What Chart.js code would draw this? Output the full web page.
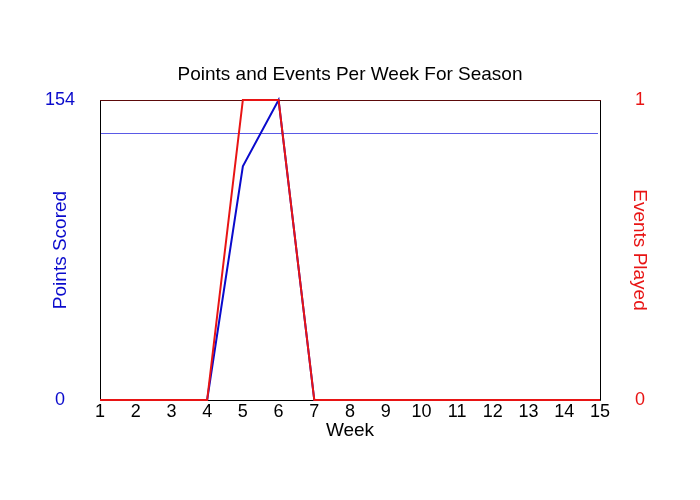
<!DOCTYPE html>
<html>
<head>
<meta charset="utf-8">
<title>Points and Events Per Week For Season</title>
<script src="https://cdn.jsdelivr.net/npm/chart.js@4.4.1/dist/chart.umd.min.js"></script>
<style>
  html, body { margin: 0; padding: 0; background: #fff; }
  canvas { display: block; }
</style>
</head>
<body>
<canvas id="grafico" width="700" height="500"></canvas>
<script>
// chart data
const weeks = ['1', '2', '3', '4', '5', '6', '7', '8', '9', '10', '11', '12', '13', '14', '15'];
const pointsScored = [0, 0, 0, 0, 120, 154, 0, 0, 0, 0, 0, 0, 0, 0, 0];
const eventsPlayed = [0, 0, 0, 0, 1, 1, 0, 0, 0, 0, 0, 0, 0, 0, 0];
const avgPoints = 137;
const pointsTicks = [0, 154];
const eventsTicks = [0, 1];

const BLUE = '#0a0acc';
const RED = '#e81414';
const FONT = '"Liberation Sans", Arial, sans-serif';

// frame + average line, under the series
const framePlugin = {
  id: 'frame',
  beforeDatasetsDraw(chart) {
    const { ctx, chartArea: a, scales } = chart;
    ctx.save();
    const yAvg = Math.round(scales.y.getPixelForValue(avgPoints)) + 0.5;
    ctx.strokeStyle = '#5a5ae6';
    ctx.lineWidth = 1;
    ctx.beginPath();
    ctx.moveTo(a.left, yAvg);
    ctx.lineTo(a.right - 2, yAvg);
    ctx.stroke();

    ctx.strokeStyle = '#000';
    ctx.beginPath();
    ctx.moveTo(a.left + 0.5, a.top);
    ctx.lineTo(a.left + 0.5, a.bottom + 0.5);
    ctx.lineTo(a.right + 0.5, a.bottom + 0.5);
    ctx.lineTo(a.right + 0.5, a.top);
    ctx.stroke();
    ctx.strokeStyle = '#5c0a0a';
    ctx.beginPath();
    ctx.moveTo(a.left, a.top + 0.5);
    ctx.lineTo(a.right + 1, a.top + 0.5);
    ctx.stroke();
    ctx.restore();
  }
};

const ctx = document.getElementById('grafico').getContext('2d');

new Chart(ctx, {
  type: 'line',
  data: {
    labels: weeks,
    datasets: [
      {
        label: 'Points Scored',
        data: pointsScored,
        yAxisID: 'y',
        order: 2,
        borderColor: BLUE,
        borderWidth: 2,
        pointRadius: 0,
        tension: 0,
        clip: 4,
        fill: false
      },
      {
        label: 'Events Played',
        data: eventsPlayed,
        yAxisID: 'y1',
        order: 1,
        borderColor: RED,
        borderWidth: 2,
        pointRadius: 0,
        tension: 0,
        clip: 4,
        fill: false
      }
    ]
  },
  options: {
    responsive: false,
    animation: false,
    layout: { padding: 0 },
    plugins: {
      legend: { display: false },
      tooltip: { enabled: false },
      title: {
        display: true,
        text: 'Points and Events Per Week For Season',
        color: '#000',
        font: { family: FONT, size: 19, weight: 'normal' },
        padding: { top: 63, bottom: 14.2 }
      }
    },
    scales: {
      x: {
        grid: { display: false, drawTicks: false, tickLength: 0 },
        border: { display: false },
        ticks: {
          color: '#000',
          padding: 1,
          maxRotation: 0,
          autoSkip: false,
          font: { family: FONT, size: 18 }
        },
        title: {
          display: true,
          text: 'Week',
          color: '#000',
          font: { family: FONT, size: 19 },
          padding: { top: 0, bottom: 58 }
        },
        afterFit(scale) { scale.height = 100; }
      },
      y: {
        position: 'left',
        min: 0,
        max: 154,
        grid: { display: false, drawTicks: false, tickLength: 0 },
        border: { display: false },
        afterBuildTicks(scale) { scale.ticks = pointsTicks.map(v => ({ value: v })); },
        ticks: {
          color: BLUE,
          padding: 25,
          crossAlign: 'center',
          font: { family: FONT, size: 18 }
        },
        title: {
          display: true,
          text: 'Points Scored',
          color: BLUE,
          font: { family: FONT, size: 19 },
          padding: { top: 49, bottom: 0 }
        },
        afterFit(scale) { scale.width = 100; }
      },
      y1: {
        position: 'right',
        min: 0,
        max: 1,
        grid: { display: false, drawTicks: false, tickLength: 0 },
        border: { display: false },
        afterBuildTicks(scale) { scale.ticks = eventsTicks.map(v => ({ value: v })); },
        ticks: {
          color: RED,
          padding: 35,
          crossAlign: 'center',
          font: { family: FONT, size: 18 }
        },
        title: {
          display: true,
          text: 'Events Played',
          color: RED,
          font: { family: FONT, size: 19 },
          padding: { top: 49, bottom: 0 }
        },
        afterFit(scale) { scale.width = 100; }
      }
    }
  },
  plugins: [framePlugin]
});
</script>
</body>
</html>
